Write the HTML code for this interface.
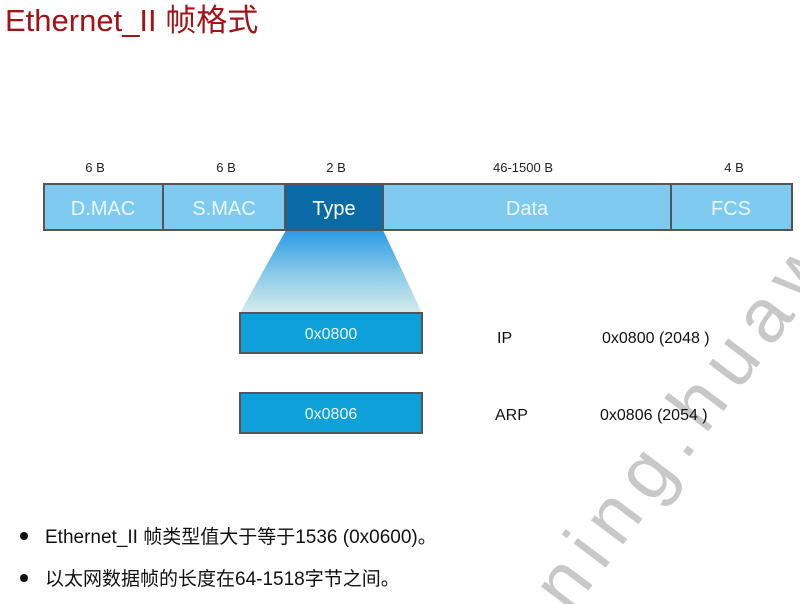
<!DOCTYPE html>
<html><head><meta charset="utf-8"><style>
body{margin:0;width:800px;height:604px;background:#fff;overflow:hidden;position:relative;font-family:"Liberation Sans","Noto Sans CJK SC",sans-serif}
</style></head><body>
<svg width="800" height="604" viewBox="0 0 800 604" style="position:absolute;left:0;top:0" font-family="Liberation Sans, Noto Sans CJK SC, sans-serif">
<defs>
<linearGradient id="g" x1="0" y1="0" x2="0" y2="1">
<stop offset="0" stop-color="#2a9be8"/>
<stop offset="0.55" stop-color="#8fcbe8"/>
<stop offset="1" stop-color="#d6ecec"/>
</linearGradient>
</defs>
<text x="5" y="31" font-size="31" fill="#a01418">Ethernet_II 帧格式</text>
<g font-size="13" fill="#222" text-anchor="middle">
<text x="95" y="172">6 B</text>
<text x="226" y="172">6 B</text>
<text x="336" y="172">2 B</text>
<text x="523" y="172">46-1500 B</text>
<text x="734" y="172">4 B</text>
</g>
<polygon points="286,230 383,230 422,313 240,313" fill="url(#g)"/>
<g stroke="#555" stroke-width="2">
<rect x="44" y="184" width="119" height="46" fill="#7ecbef"/>
<rect x="163" y="184" width="122" height="46" fill="#7ecbef"/>
<rect x="285" y="184" width="98" height="46" fill="#0a6aa6"/>
<rect x="383" y="184" width="288" height="46" fill="#7ecbef"/>
<rect x="671" y="184" width="121" height="46" fill="#7ecbef"/>
<rect x="240" y="313" width="182" height="40" fill="#0ea0d8"/>
<rect x="240" y="393" width="182" height="40" fill="#0ea0d8"/>
</g>
<g font-size="20" fill="#eaf6fc" text-anchor="middle">
<text x="103" y="215">D.MAC</text>
<text x="224" y="215">S.MAC</text>
<text x="334" y="215" fill="#fff">Type</text>
<text x="527" y="215">Data</text>
<text x="731" y="215">FCS</text>
</g>
<g font-size="16" fill="#eaf6fc" text-anchor="middle">
<text x="331" y="339">0x0800</text>
<text x="331" y="419">0x0806</text>
</g>
<text x="0" y="0" font-size="76" fill="#c8c8c8" letter-spacing="12" transform="translate(570,615) rotate(-53)">ning.huaw</text>
<g font-size="16" fill="#111">
<text x="497" y="343">IP</text>
<text x="602" y="343">0x0800 (2048 )</text>
<text x="495" y="420">ARP</text>
<text x="600" y="420">0x0806 (2054 )</text>
</g>
<g font-size="19" fill="#111">
<circle cx="24" cy="536" r="4"/>
<text x="45" y="543">Ethernet_II 帧类型值大于等于1536 (0x0600)。</text>
<circle cx="24" cy="578" r="4"/>
<text x="45" y="585">以太网数据帧的长度在64-1518字节之间。</text>
</g>
</svg>
</body></html>
